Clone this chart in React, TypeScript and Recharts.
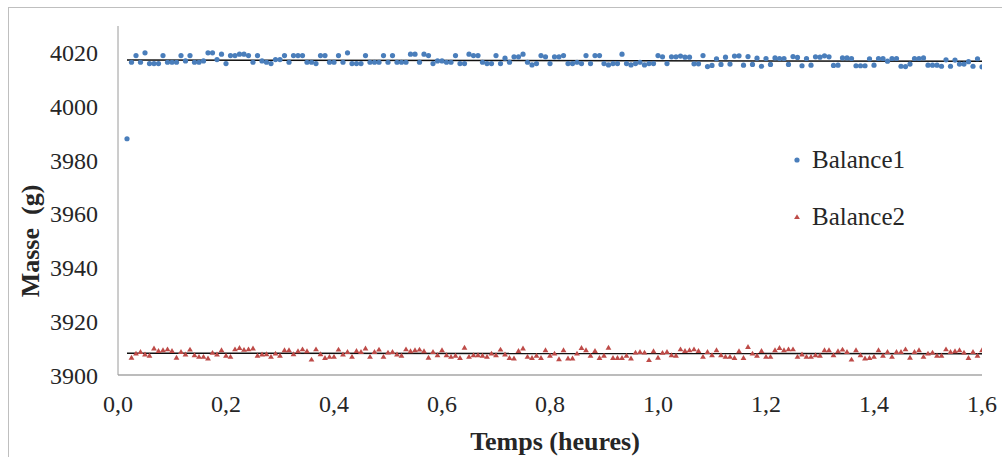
import React from 'react';
import { ScatterChart, Scatter, XAxis, YAxis, ReferenceLine, Label } from 'recharts';

// Sampling: one reading every 30 s, expressed in hours
const SAMPLE_INTERVAL_H = 30 / 3600;
const BALANCE1_FIRST_SAMPLE = 2;
const BALANCE2_FIRST_SAMPLE = 3;

const seriesNames = ['Balance1', 'Balance2'];

const balance1Masses = [
  3988,
  4016.5, 4019, 4016.5, 4020, 4016, 4016, 4016, 4019, 4016.5, 4016.5,
  4016.5, 4019, 4017, 4019, 4016.5, 4016.5, 4017, 4020, 4020, 4017.5,
  4019.5, 4016, 4019, 4019, 4019.5, 4019.5, 4019, 4016.5, 4019, 4017,
  4016.5, 4016, 4017.5, 4017.5, 4019, 4016.5, 4019, 4019, 4019, 4016.5,
  4016.5, 4016, 4019, 4019, 4016.5, 4016.5, 4019, 4016.5, 4020, 4016,
  4016, 4016, 4019, 4016.5, 4016.5, 4016.5, 4019, 4016.5, 4019, 4016.5,
  4016.5, 4016.5, 4019.5, 4019.5, 4016.5, 4019.5, 4019, 4016, 4017, 4017,
  4016.5, 4016.5, 4019, 4016, 4016, 4019.5, 4019, 4019, 4016.5, 4016,
  4016, 4019, 4016, 4018, 4016.5, 4018.5, 4018.5, 4019.5, 4016.5, 4015.5,
  4016, 4019, 4018.5, 4016, 4018.5, 4018.5, 4019, 4016, 4016, 4016.5,
  4016, 4019, 4016, 4019, 4019, 4016, 4015.5, 4016, 4016, 4019.5,
  4016, 4015.5, 4016, 4016.5, 4015.5, 4016, 4016, 4019, 4018.5, 4016,
  4018.5, 4018.5, 4018.8, 4018.4, 4018.4, 4015.9, 4015.9, 4019, 4014.9, 4015.3,
  4017.8, 4015.7, 4018.4, 4015.8, 4018.8, 4018.9, 4015.4, 4018.6, 4015.7, 4018,
  4015, 4017.9, 4015.7, 4018.1, 4017.9, 4017.9, 4015.7, 4018.6, 4018.3, 4015.2,
  4017.9, 4015.4, 4018.5, 4018.4, 4018.9, 4018.5, 4015.3, 4015.4, 4018.1, 4018.1,
  4017.9, 4015.2, 4015.2, 4015.2, 4017.8, 4015.4, 4017.9, 4017.9, 4016.9, 4017.9,
  4017.9, 4015, 4014.9, 4015.8, 4017.9, 4017.9, 4018.1, 4015.4, 4015.4, 4015.4,
  4015, 4017.4, 4015, 4017.3, 4015.8, 4015.8, 4016.7, 4015, 4017.8, 4014.8,
];

const balance2Masses = [
  3906.5, 3908, 3908.6, 3907.7, 3907.2, 3909.9, 3909, 3909.3, 3909.6, 3909,
  3906.5, 3908.6, 3907.7, 3909.5, 3907.4, 3906.8, 3906.8, 3906.2, 3908.3, 3907.7,
  3909.3, 3907.2, 3906.8, 3909.6, 3910.1, 3909.4, 3909.6, 3909.9, 3907.2, 3907.7,
  3907.8, 3906.8, 3908, 3907.2, 3909.3, 3909.3, 3907.8, 3908.9, 3909.6, 3908.9,
  3905.8, 3909.6, 3907.8, 3906.4, 3906.8, 3906.8, 3909.5, 3907.7, 3908.6, 3906.8,
  3909, 3908.6, 3909.9, 3906.8, 3908.6, 3909.5, 3906.8, 3908.4, 3908.6, 3907.7,
  3907.2, 3909.6, 3908.9, 3909.3, 3909.5, 3908.9, 3906.5, 3908.6, 3907.4, 3909.3,
  3907.4, 3906.8, 3907.2, 3906.4, 3910.2, 3906.8, 3907.4, 3907.4, 3907.2, 3906.8,
  3908, 3907.4, 3909.5, 3907.7, 3906.4, 3906.2, 3909, 3909.9, 3906.8, 3906.4,
  3907.2, 3906.4, 3909.3, 3907.2, 3908, 3905.9, 3909.3, 3906.2, 3906.2, 3908,
  3910.1, 3909.3, 3907.2, 3909, 3906.4, 3907.2, 3910.2, 3906.4, 3906.4, 3906.4,
  3907.2, 3906.2, 3908.4, 3908.6, 3908.4, 3905.6, 3908.9, 3906.5, 3908.3, 3908.6,
  3907.4, 3907.2, 3909.6, 3909, 3909.3, 3909.6, 3909, 3906.8, 3908.6, 3907.4,
  3909.3, 3907.4, 3906.8, 3906.8, 3906.4, 3908.9, 3906.4, 3910.5, 3908, 3907.2,
  3909, 3906.8, 3906.8, 3909.3, 3910.1, 3909.3, 3909.6, 3909.6, 3906.8, 3907.7,
  3906.8, 3906.8, 3907.4, 3907.2, 3909.3, 3909.3, 3907.4, 3908.9, 3909.5, 3908.6,
  3905.8, 3909.3, 3907.4, 3906.2, 3906.4, 3906.8, 3909.3, 3907.2, 3908.6, 3906.8,
  3908.6, 3908.6, 3909.6, 3906.5, 3908.6, 3909.3, 3906.8, 3908, 3908.4, 3907.2,
  3907.2, 3909.6, 3908.6, 3908.9, 3909.3, 3908.4, 3906.4, 3908.6, 3907.2, 3909.3,
];

const xTicks = [0, 0.2, 0.4, 0.6, 0.8, 1.0, 1.2, 1.4, 1.6];
const yTicks = [3900, 3920, 3940, 3960, 3980, 4000, 4020];
const xDomain = [0, 1.6];
const yDomain = [3900, 4030];

const BLUE = '#4A7EBB';
const RED = '#BE4B48';
const FONT = '"Liberation Serif", "Times New Roman", serif';
const TEXT = '#262626';

type Pt = { t: number; m: number };

const toPoints = (first: number, masses: number[]): Pt[] =>
  masses.map((m, i) => ({ t: (first + i) * SAMPLE_INTERVAL_H, m }));

const balance1 = toPoints(BALANCE1_FIRST_SAMPLE, balance1Masses);
const balance2 = toPoints(BALANCE2_FIRST_SAMPLE, balance2Masses);

function linReg(pts: Pt[]) {
  const n = pts.length;
  const mt = pts.reduce((s, p) => s + p.t, 0) / n;
  const mm = pts.reduce((s, p) => s + p.m, 0) / n;
  let num = 0;
  let den = 0;
  pts.forEach((p) => {
    num += (p.t - mt) * (p.m - mm);
    den += (p.t - mt) * (p.t - mt);
  });
  const slope = num / den;
  return { slope, intercept: mm - slope * mt };
}

const tStart = Math.min(balance1[0].t, balance2[0].t);
const tEnd = Math.max(balance1[balance1.length - 1].t, balance2[balance2.length - 1].t);

const trendSegment = (pts: Pt[]) => {
  const { slope, intercept } = linReg(pts);
  return [
    { x: tStart, y: intercept + slope * tStart },
    { x: tEnd, y: intercept + slope * tEnd },
  ];
};

const trend1 = trendSegment(balance1);
const trend2 = trendSegment(balance2);

const DotShape = (p: any) => <circle cx={p.cx} cy={p.cy} r={2.6} fill={BLUE} />;
const TriShape = (p: any) => (
  <polygon
    points={`${p.cx},${p.cy - 2.8} ${p.cx + 2.9},${p.cy + 2.1} ${p.cx - 2.9},${p.cy + 2.1}`}
    fill={RED}
  />
);

const LegendBox = () => (
  <div
    style={{
      position: 'absolute',
      left: 782,
      top: 130,
      width: 200,
      fontFamily: FONT,
      fontSize: 25,
      color: TEXT,
    }}
  >
    {seriesNames.map((name, i) => (
      <div
        key={name}
        style={{ display: 'flex', alignItems: 'center', height: 44, marginBottom: i === 0 ? 13 : 0 }}
      >
        <svg width={14} height={10} style={{ marginRight: 8 }}>
          {i === 0 ? (
            <circle cx={7} cy={5} r={2.6} fill={BLUE} />
          ) : (
            <polygon points="7,2.2 9.9,7.1 4.1,7.1" fill={RED} />
          )}
        </svg>
        <span>{name}</span>
      </div>
    ))}
  </div>
);

const fmtX = (v: number) => v.toFixed(1).replace('.', ',');

export default function App() {
  return (
    <div style={{ width: 1002, height: 457, overflow: 'hidden', position: 'relative' }}>
      <style>{'html,body{margin:0;padding:0;overflow:hidden}'}</style>
      <div style={{ position: 'absolute', left: 8, top: 8, width: 994, height: 449 }}>
        <ScatterChart
          width={994}
          height={449}
          margin={{ top: 18, right: 20, left: 0, bottom: 0 }}
          style={{ overflow: 'visible' }}
        >
          <XAxis
            type="number"
            dataKey="t"
            domain={xDomain}
            ticks={xTicks}
            tickFormatter={fmtX}
            allowDataOverflow
            height={82}
            tickLine={false}
            tickSize={0}
            tickMargin={20}
            axisLine={{ stroke: '#A6A6A6', strokeWidth: 1.5 }}
            tick={{ fontSize: 24, fill: TEXT, fontFamily: FONT }}
          >
            <Label
              content={() => (
                <text
                  x={547}
                  y={433}
                  textAnchor="middle"
                  dominantBaseline="central"
                  style={{ fontFamily: FONT, fontSize: 26, fontWeight: 'bold', fill: TEXT }}
                >
                  Temps (heures)
                </text>
              )}
            />
          </XAxis>
          <YAxis
            type="number"
            dataKey="m"
            domain={yDomain}
            ticks={yTicks}
            allowDataOverflow
            width={110}
            tickLine={false}
            tickSize={0}
            tickMargin={20}
            axisLine={{ stroke: '#9A9A9A', strokeWidth: 1 }}
            tick={{ fontSize: 24, fill: TEXT, fontFamily: FONT }}
          >
            <Label
              content={() => (
                <text
                  x={22}
                  y={233}
                  transform="rotate(-90, 22, 233)"
                  textAnchor="middle"
                  dominantBaseline="central"
                  style={{ fontFamily: FONT, fontSize: 26, fontWeight: 'bold', fill: TEXT, whiteSpace: 'pre' }}
                >
                  {'Masse  (g)'}
                </text>
              )}
            />
          </YAxis>
          <Scatter
            name={seriesNames[0]}
            data={balance1}
            shape={DotShape}
            isAnimationActive={false}
          />
          <Scatter
            name={seriesNames[1]}
            data={balance2}
            shape={TriShape}
            isAnimationActive={false}
          />
          <ReferenceLine segment={trend1} stroke="#111" strokeWidth={1.5} />
          <ReferenceLine segment={trend2} stroke="#111" strokeWidth={1.5} />
        </ScatterChart>
        <LegendBox />
        <div
          style={{
            position: 'absolute',
            left: 0,
            top: -1,
            width: 994,
            height: 450,
            borderLeft: '1px solid #BFBFBF',
            borderTop: '1px solid #BFBFBF',
            boxSizing: 'border-box',
            pointerEvents: 'none',
          }}
        />
      </div>
    </div>
  );
}
